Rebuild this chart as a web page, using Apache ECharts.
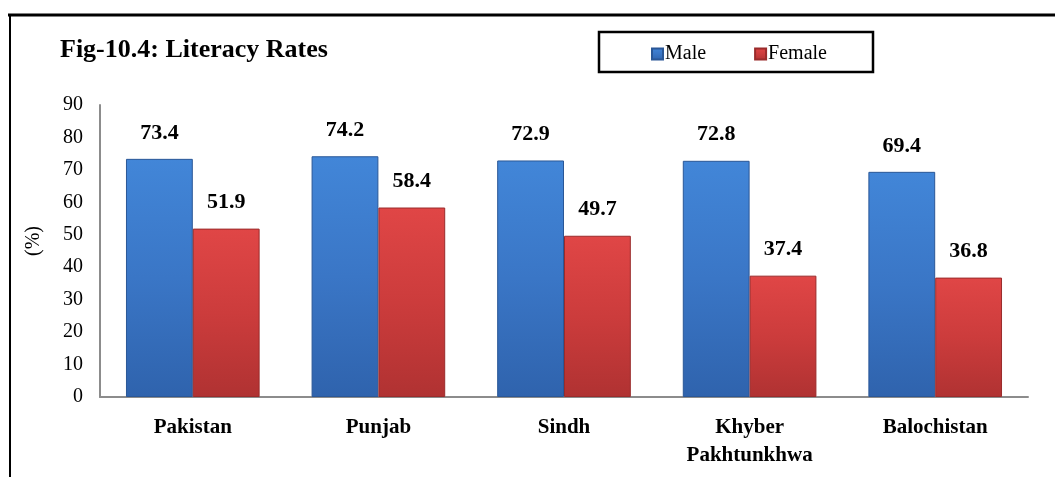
<!DOCTYPE html>
<html>
<head>
<meta charset="utf-8">
<script src="https://cdn.jsdelivr.net/npm/echarts@6/dist/echarts.min.js"></script>
<style>
html,body{margin:0;padding:0;background:#fff;}
#chart{width:1055px;height:477px;}
</style>
</head>
<body>
<div id="chart"></div>
<script>
const categories = ['Pakistan', 'Punjab', 'Sindh', 'Khyber\nPakhtunkhwa', 'Balochistan'];
const maleValues = [73.4, 74.2, 72.9, 72.8, 69.4];
const femaleValues = [51.9, 58.4, 49.7, 37.4, 36.8];
const yTicks = [0, 10, 20, 30, 40, 50, 60, 70, 80, 90];

const serif = '"Liberation Serif", "DejaVu Serif", serif';

function grad(top, mid, bottom) {
  return new echarts.graphic.LinearGradient(0, 0, 0, 1, [
    {offset: 0, color: top},
    {offset: 0.5, color: mid},
    {offset: 1, color: bottom}
  ]);
}

const chart = echarts.init(document.getElementById('chart'));
chart.setOption({
  backgroundColor: '#fff',
  animation: false,
  title: {
    text: 'Fig-10.4: Literacy Rates',
    left: 55, top: 32,
    textStyle: {fontFamily: serif, fontWeight: 'bold', fontSize: 26, color: '#000'}
  },
  legend: {
    data: ['Male', 'Female'],
    left: 646, top: 39,
    itemWidth: 11, itemHeight: 11,
    itemGap: 48,
    icon: 'rect',
    textStyle: {fontFamily: serif, fontSize: 20, color: '#000', padding: [0, 0, 0, -3]}
  },
  graphic: [
    {type: 'line', shape: {x1: 8, y1: 15, x2: 1055, y2: 15}, style: {stroke: '#000', lineWidth: 3}},
    {type: 'line', shape: {x1: 10, y1: 14, x2: 10, y2: 477}, style: {stroke: '#000', lineWidth: 2}},
    {type: 'rect', shape: {x: 599, y: 32, width: 274, height: 40}, style: {fill: 'none', stroke: '#000', lineWidth: 2.5}}
  ],
  grid: {left: 100, right: 27, top: 105, bottom: 80, containLabel: false},
  xAxis: {
    type: 'category',
    data: categories,
    axisLine: {lineStyle: {color: '#8c8c8c', width: 2}},
    axisTick: {show: false},
    axisLabel: {fontFamily: serif, fontWeight: 'bold', fontSize: 21, color: '#000', margin: 17, lineHeight: 28}
  },
  yAxis: {
    type: 'value',
    min: yTicks[0], max: yTicks[yTicks.length - 1], interval: 10,
    name: '(%)',
    nameLocation: 'middle',
    nameGap: 56,
    nameTextStyle: {fontFamily: serif, fontSize: 20, color: '#000', padding: [0, 0, 0, 20]},
    axisLine: {show: true, lineStyle: {color: '#8c8c8c', width: 2}},
    axisTick: {show: false},
    splitLine: {show: false},
    axisLabel: {fontFamily: serif, fontSize: 20, color: '#000', margin: 17}
  },
  series: [
    {
      name: 'Male', type: 'bar', data: maleValues,
      barGap: '0%', barCategoryGap: '28%',
      itemStyle: {color: grad('#4286d8', '#3a76c6', '#2f63ad'), borderColor: '#2a5797', borderWidth: 1},
      label: {show: true, position: 'top', distance: 15, fontFamily: serif, fontWeight: 'bold', fontSize: 22, color: '#000', formatter: p => p.value.toFixed(1)}
    },
    {
      name: 'Female', type: 'bar', data: femaleValues,
      itemStyle: {color: grad('#e04646', '#cc3c3c', '#b03232'), borderColor: '#9a2b2b', borderWidth: 1},
      label: {show: true, position: 'top', distance: 15, fontFamily: serif, fontWeight: 'bold', fontSize: 22, color: '#000', formatter: p => p.value.toFixed(1)}
    }
  ]
});
</script>
</body>
</html>
